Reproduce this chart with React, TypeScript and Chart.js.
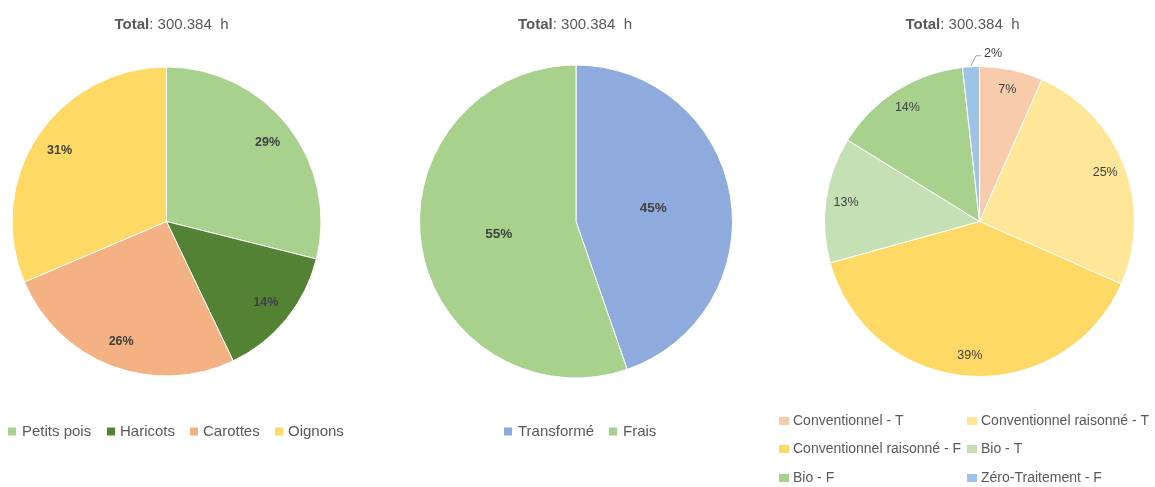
import React, { useEffect, useRef } from 'react';
import { Chart, registerables } from 'chart.js';

Chart.register(...registerables);

const FONT = '"Liberation Sans", Arial, sans-serif';

// ---- Data ----
const totalText = '300.384  h';

const cultureLabels = ['Petits pois', 'Haricots', 'Carottes', 'Oignons'];
const cultureValues = [28.9, 14.0, 25.7, 31.4];
const cultureColors = ['#A9D18E', '#548235', '#F4B183', '#FFD966'];

const etatLabels = ['Transformé', 'Frais'];
const etatValues = [44.7, 55.3];
const etatColors = ['#8FAADC', '#A9D18E'];

const modeLabels = [
  'Conventionnel - T',
  'Conventionnel raisonné - T',
  'Conventionnel raisonné - F',
  'Bio - T',
  'Bio - F',
  'Zéro-Traitement - F',
];
const modeValues = [6.6, 25.0, 39.1, 13.1, 14.45, 1.75];
const modeColors = ['#F8CBAD', '#FFE699', '#FFD966', '#C5E0B4', '#A9D18E', '#9DC3E6'];

// ---- Layout specs (positions only) ----
type Spec = {
  left: number;
  width: number;
  padding: { left: number; right: number; top: number; bottom: number };
  titleX: number;
  labels: string[];
  values: number[];
  colors: string[];
  labelFactor: number;
  labelFont: string;
  outside: boolean[];
  legend: { bx: number; tx: number; y: number; bw: number; bh: number; font: string }[];
};

const H = 487;

const specs: Spec[] = [
  {
    left: 0,
    width: 360,
    padding: { left: 11.5, right: 38.5, top: 66.5, bottom: 110.5 },
    titleX: 171.5,
    labels: cultureLabels,
    values: cultureValues,
    colors: cultureColors,
    labelFactor: 0.83,
    labelFont: `bold 12.5px ${FONT}`,
    outside: [false, false, false, false],
    legend: [
      { bx: 8, tx: 22, y: 431.5, bw: 8, bh: 8, font: `15px ${FONT}` },
      { bx: 107, tx: 120, y: 431.5, bw: 8, bh: 8, font: `15px ${FONT}` },
      { bx: 190, tx: 203, y: 431.5, bw: 8, bh: 8, font: `15px ${FONT}` },
      { bx: 275, tx: 288, y: 431.5, bw: 8, bh: 8, font: `15px ${FONT}` },
    ],
  },
  {
    left: 380,
    width: 390,
    padding: { left: 39, right: 37, top: 64.5, bottom: 108.5 },
    titleX: 575 - 380,
    labels: etatLabels,
    values: etatValues,
    colors: etatColors,
    labelFactor: 0.5,
    labelFont: `bold 13.5px ${FONT}`,
    outside: [false, false],
    legend: [
      { bx: 504 - 380, tx: 518 - 380, y: 431.5, bw: 8, bh: 8, font: `15px ${FONT}` },
      { bx: 609 - 380, tx: 623 - 380, y: 431.5, bw: 8, bh: 8, font: `15px ${FONT}` },
    ],
  },
  {
    left: 770,
    width: 385,
    padding: { left: 54, right: 20, top: 66, bottom: 110 },
    titleX: 962.5 - 770,
    labels: modeLabels,
    values: modeValues,
    colors: modeColors,
    labelFactor: 0.87,
    labelFont: `12.5px ${FONT}`,
    outside: [false, false, false, false, false, true],
    legend: [
      { bx: 779 - 770, tx: 793 - 770, y: 421, bw: 10, bh: 8, font: `14px ${FONT}` },
      { bx: 967 - 770, tx: 981 - 770, y: 421, bw: 10, bh: 8, font: `14px ${FONT}` },
      { bx: 779 - 770, tx: 793 - 770, y: 449, bw: 10, bh: 8, font: `14px ${FONT}` },
      { bx: 967 - 770, tx: 981 - 770, y: 449, bw: 10, bh: 8, font: `14px ${FONT}` },
      { bx: 779 - 770, tx: 793 - 770, y: 478, bw: 10, bh: 8, font: `14px ${FONT}` },
      { bx: 967 - 770, tx: 981 - 770, y: 478, bw: 10, bh: 8, font: `14px ${FONT}` },
    ],
  },
];

function makePlugin(spec: Spec) {
  return {
    id: 'decor',
    afterDatasetsDraw(chart: any) {
      const ctx: CanvasRenderingContext2D = chart.ctx;
      const meta = chart.getDatasetMeta(0);
      const data: number[] = chart.data.datasets[0].data;
      const sum = data.reduce((a, b) => a + b, 0);
      ctx.save();
      meta.data.forEach((arc: any, i: number) => {
        const p = arc.getProps(['x', 'y', 'startAngle', 'endAngle', 'outerRadius'], true);
        const mid = (p.startAngle + p.endAngle) / 2;
        const txt = Math.round((data[i] / sum) * 100) + '%';
        ctx.font = spec.labelFont;
        ctx.fillStyle = '#404040';
        if (spec.outside[i]) {
          const sx = p.x + Math.cos(mid) * (p.outerRadius + 1);
          const sy = p.y + Math.sin(mid) * (p.outerRadius + 1);
          const ex = sx + 5;
          const ey = sy - 10;
          ctx.strokeStyle = '#A6A6A6';
          ctx.lineWidth = 1;
          ctx.beginPath();
          ctx.moveTo(sx, sy);
          ctx.lineTo(ex, ey);
          ctx.lineTo(ex + 5, ey);
          ctx.stroke();
          ctx.textAlign = 'left';
          ctx.textBaseline = 'middle';
          ctx.fillText(txt, ex + 8, ey - 2);
        } else {
          const r = p.outerRadius * spec.labelFactor;
          ctx.textAlign = 'center';
          ctx.textBaseline = 'middle';
          ctx.fillText(txt, p.x + Math.cos(mid) * r, p.y + Math.sin(mid) * r);
        }
      });
      ctx.restore();
    },
    afterDraw(chart: any) {
      const ctx: CanvasRenderingContext2D = chart.ctx;
      ctx.save();
      // title
      ctx.fillStyle = '#595959';
      ctx.textBaseline = 'middle';
      ctx.textAlign = 'left';
      const boldPart = 'Total';
      const restPart = ': ' + totalText;
      ctx.font = `bold 15px ${FONT}`;
      const w1 = ctx.measureText(boldPart).width;
      ctx.font = `15px ${FONT}`;
      const w2 = ctx.measureText(restPart).width;
      const x0 = spec.titleX - (w1 + w2) / 2;
      ctx.font = `bold 15px ${FONT}`;
      ctx.fillText(boldPart, x0, 25);
      ctx.font = `15px ${FONT}`;
      ctx.fillText(restPart, x0 + w1, 25);
      // legend
      spec.legend.forEach((it, i) => {
        ctx.fillStyle = spec.colors[i];
        ctx.fillRect(it.bx, it.y - it.bh / 2, it.bw, it.bh);
        ctx.fillStyle = '#595959';
        ctx.font = it.font;
        ctx.textAlign = 'left';
        ctx.textBaseline = 'middle';
        ctx.fillText(spec.labels[i], it.tx, it.y + 0.5);
      });
      ctx.restore();
    },
  };
}

function PieCanvas({ spec }: { spec: Spec }) {
  const ref = useRef<HTMLCanvasElement | null>(null);
  useEffect(() => {
    if (!ref.current) return;
    const chart = new Chart(ref.current, {
      type: 'pie',
      data: {
        labels: spec.labels,
        datasets: [
          {
            data: spec.values,
            backgroundColor: spec.colors,
            borderColor: '#ffffff',
            borderWidth: 1,
          },
        ],
      },
      options: {
        responsive: false,
        animation: false,
        layout: { padding: spec.padding },
        plugins: {
          legend: { display: false },
          title: { display: false },
          tooltip: { enabled: true },
        },
      },
      plugins: [makePlugin(spec)],
    } as any);
    return () => chart.destroy();
  }, [spec]);
  return (
    <canvas
      ref={ref}
      width={spec.width}
      height={H}
      style={{ position: 'absolute', left: spec.left, top: 0, width: spec.width, height: H }}
    />
  );
}

export default function App() {
  return (
    <div style={{ position: 'absolute', left: 0, top: 0, width: 1155, height: H, background: '#fff', overflow: 'hidden' }}>
      {specs.map((s, i) => (
        <PieCanvas key={i} spec={s} />
      ))}
    </div>
  );
}
